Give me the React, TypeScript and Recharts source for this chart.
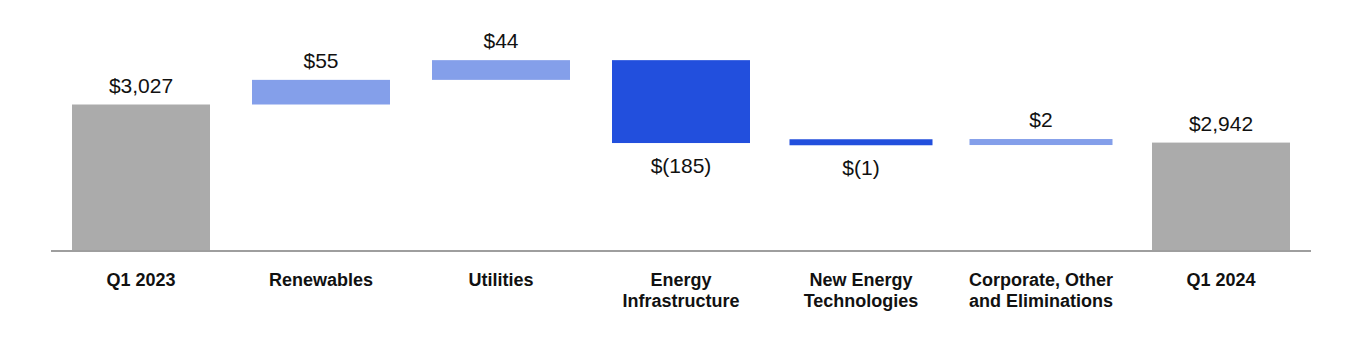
import React from "react";
import { BarChart, Bar, XAxis, YAxis, Cell, LabelList } from "recharts";

const categories = [
  "Q1 2023",
  "Renewables",
  "Utilities",
  "Energy\nInfrastructure",
  "New Energy\nTechnologies",
  "Corporate, Other\nand Eliminations",
  "Q1 2024",
];
const changes = [3027, 55, 44, -185, -1, 2, 2942];
const kinds = ["total", "delta", "delta", "delta", "delta", "delta", "total"];
const valueLabels = ["$3,027", "$55", "$44", "$(185)", "$(1)", "$2", "$2,942"];
const yDomain = [2700, 3200];

const COLORS: Record<string, string> = {
  total: "#ababab",
  up: "#849fea",
  down: "#224fdd",
};

let running = 0;
const data = categories.map((name, i) => {
  const v = changes[i];
  let range: [number, number];
  let color: string;
  if (kinds[i] === "total") {
    running = v;
    range = [yDomain[0], v];
    color = COLORS.total;
  } else {
    const start = running;
    running = running + v;
    range = [Math.min(start, running), Math.max(start, running)];
    color = v >= 0 ? COLORS.up : COLORS.down;
  }
  return { name, range, color, label: valueLabels[i], neg: v < 0 };
});

const MIN_H = 6;

const WaterfallShape = (props: any) => {
  const { x, y, width, height, fill } = props;
  let yy = y;
  let h = height;
  let xx = x;
  let w = width;
  if (Math.abs(h) < MIN_H) {
    const mid = y + h / 2 - 1;
    yy = mid - MIN_H / 2;
    h = MIN_H;
    xx = x - 2.5;
    w = width + 5;
  }
  return <rect x={xx} y={yy} width={w} height={h} fill={fill} />;
};

const ValueLabel = (props: any) => {
  const { x, y, width, height, index } = props;
  const d = data[index];
  let top = y;
  let bottom = y + height;
  if (Math.abs(height) < MIN_H) {
    const mid = y + height / 2 - 1;
    top = mid - MIN_H / 2;
    bottom = mid + MIN_H / 2;
  }
  const cx = x + width / 2;
  const ty = d.neg ? bottom + 30 : top - 12;
  return (
    <text
      x={cx}
      y={ty}
      textAnchor="middle"
      fontSize={21}
      fontFamily="Liberation Sans, Arial, sans-serif"
      fill="#111"
    >
      {d.label}
    </text>
  );
};

const CategoryTick = (props: any) => {
  const { x, y, payload } = props;
  const lines = String(payload.value).split("\n");
  return (
    <g>
      {lines.map((ln, i) => (
        <text
          key={i}
          x={x}
          y={y + 35 + i * 21}
          textAnchor="middle"
          fontSize={18}
          fontWeight="bold"
          fontFamily="Liberation Sans, Arial, sans-serif"
          fill="#111"
        >
          {ln}
        </text>
      ))}
    </g>
  );
};

export default function App() {
  return (
    <div style={{ position: "absolute", left: 0, top: 0, background: "#fff" }}>
      <BarChart
        width={1360}
        height={350}
        data={data}
        margin={{ top: 27, right: 49, bottom: 39, left: 51 }}
        barCategoryGap={21}
      >
        <XAxis
          dataKey="name"
          tickLine={false}
          tickSize={0}
          tickMargin={0}
          axisLine={{ stroke: "#9e9e9e", strokeWidth: 2 }}
          tick={<CategoryTick />}
          interval={0}
          height={60}
        />
        <YAxis hide domain={yDomain} allowDataOverflow />
        <Bar dataKey="range" isAnimationActive={false} shape={<WaterfallShape />}>
          {data.map((d, i) => (
            <Cell key={i} fill={d.color} />
          ))}
          <LabelList dataKey="label" content={<ValueLabel />} />
        </Bar>
      </BarChart>
    </div>
  );
}
